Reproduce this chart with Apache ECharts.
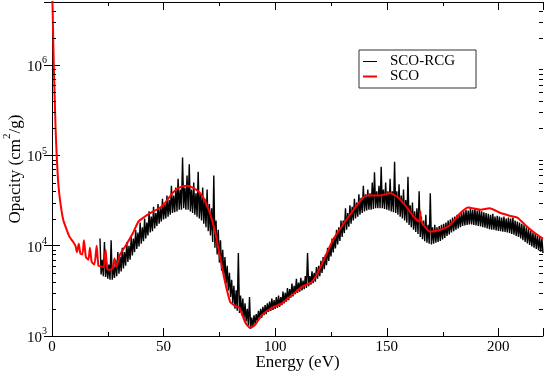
<!DOCTYPE html>
<html>
<head>
<meta charset="utf-8">
<script src="https://cdn.jsdelivr.net/npm/echarts@6/dist/echarts.min.js"></script>
<style>
  html, body { margin: 0; padding: 0; background: #fff; }
  #chart { width: 545px; height: 372px; }
</style>
</head>
<body>
<div id="chart"></div>
<script>
// SCO opacity, [energy eV, opacity cm2/g]
const scoPoints = [
  [0.1, 6.0e6], [0.3, 4.0e6], [0.5, 2.2e6], [0.8, 1.0e6], [1.2, 4.5e5], [1.6, 2.0e5], [2.1, 1.0e5],
  [2.8, 5.0e4], [3.6, 3.2e4], [5.0, 1.95e4], [6.6, 1.5e4], [7.8, 1.26e4], [9.5, 1.1e4], [10.5, 1.0e4],
  [11.2, 8.5e3], [12, 1.05e4], [12.7, 8.2e3], [13.6, 8.0e3], [14.3, 1.15e4], [15.2, 7.5e3], [16.3, 7.0e3],
  [17, 9.5e3], [17.8, 6.6e3], [19, 6.2e3], [20, 1.0e4], [20.8, 6.0e3], [22, 5.9e3], [23.2, 5.8e3],
  [24, 9.0e3], [24.8, 5.5e3], [26, 5.4e3], [27.2, 5.6e3], [28, 7.2e3], [28.8, 5.8e3], [30.5, 8.0e3],
  [33, 1.0e4], [36.4, 1.4e4], [38.7, 1.85e4], [41, 2.05e4], [44, 2.3e4], [47.5, 2.55e4], [50, 2.85e4],
  [54.3, 3.9e4], [57, 4.4e4], [60.4, 4.6e4], [63, 4.4e4], [65.5, 4.0e4], [67.5, 3.5e4], [69.4, 2.8e4],
  [71, 2.2e4], [73, 1.45e4], [74, 1.1e4], [75.3, 7.5e3], [77.5, 4.0e3], [79.8, 2.4e3], [82, 2.15e3], [84, 2.05e3],
  [86.5, 1.43e3], [88.7, 1.23e3], [91, 1.33e3], [94, 1.7e3], [98.6, 2.05e3], [103, 2.3e3], [107.6, 2.85e3],
  [112, 3.5e3], [116.5, 4.0e3], [119, 5.0e3], [122.4, 7.5e3], [126, 1.17e4], [132, 1.95e4], [138, 3.1e4],
  [141, 3.6e4], [147, 3.6e4], [151.5, 3.8e4], [154.6, 3.5e4], [159, 2.65e4], [162, 2.1e4], [164.5, 1.85e4],
  [165, 2.4e4], [165.5, 1.85e4], [169.4, 1.43e4], [174, 1.5e4], [178.4, 1.7e4], [183, 2.3e4], [186.5, 2.65e4],
  [192, 2.5e4], [196, 2.6e4], [201, 2.3e4], [205, 2.15e4], [208.5, 2.05e4], [212, 1.7e4], [215.6, 1.43e4],
  [220, 1.2e4]
];

// SCO-RCG opacity (noisy), [energy eV, opacity cm2/g]
const rcgPoints = [
  [21.5,1.2e4],[22,4.8e3],[22.5,7.0e3],[23,4.6e3],[23.5,1.1e4],[24,4.5e3],[24.5,6.5e3],[25,4.3e3],[25.5,6.2e3],[26,4.2e3],
  [26.5,1.15e4],[27,4.2e3],[27.5,6.0e3],[28,4.4e3],[28.5,7.0e3],[29,4.6e3],[29.5,8.5e3],[30,4.9e3],[30.5,7.5e3],[31,5.2e3],
  [31.5,9.5e3],[32,5.6e3],[32.5,8.5e3],[33,6.0e3],[33.5,1.1e4],[34,6.6e3],[34.5,1.0e4],[35,7.0e3],[35.5,1.25e4],[36,7.8e3],
  [36.5,1.2e4],[37,8.5e3],[37.5,1.5e4],[38,9.2e3],[38.5,1.4e4],[39,9.8e3],[39.5,1.8e4],[40,1.05e4],[40.5,1.6e4],[41,1.12e4],
  [41.5,2.0e4],[42,1.2e4],[42.5,1.8e4],[43,1.3e4],[43.5,2.4e4],[44,1.4e4],[44.5,2.1e4],[45,1.45e4],[45.5,2.7e4],[46,1.55e4],
  [46.5,2.3e4],[47,1.65e4],[47.5,2.9e4],[48,1.75e4],[48.5,2.6e4],[49,1.85e4],[49.5,3.3e4],[50,1.95e4],[50.5,2.9e4],[51,2.0e4],
  [51.5,3.6e4],[52,2.1e4],[52.5,3.2e4],[53,2.2e4],[53.5,4.6e4],[54,2.3e4],[54.5,3.6e4],[55,2.35e4],[55.5,4.4e4],[56,2.4e4],
  [56.5,5.5e4],[57,2.5e4],[57.5,4.2e4],[58,2.5e4],[58.5,9.5e4],[59,2.6e4],[59.5,4.4e4],[60,2.5e4],[60.5,6.0e4],[61,2.5e4],
  [61.5,8.0e4],[62,2.4e4],[62.5,4.2e4],[63,2.3e4],[63.5,5.0e4],[64,2.2e4],[64.5,3.8e4],[65,2.1e4],[65.5,6.6e4],[66,2.0e4],
  [66.5,3.8e4],[67,1.9e4],[67.5,4.4e4],[68,1.75e4],[68.5,3.3e4],[69,1.6e4],[69.5,4.2e4],[70,1.45e4],[70.5,2.9e4],[71,1.3e4],
  [71.5,2.6e4],[72,1.1e4],[72.5,6.0e4],[73,9.5e3],[73.5,1.9e4],[74,8.0e3],[74.5,1.5e4],[75,6.5e3],[75.5,1.15e4],[76,5.3e3],
  [76.5,9.0e3],[77,4.5e3],[77.5,7.5e3],[78,3.8e3],[78.5,6.0e3],[79,3.2e3],[79.5,5.0e3],[80,2.7e3],[80.5,4.2e3],[81,2.3e3],
  [81.5,3.6e3],[82,2.0e3],[82.5,3.2e3],[83,1.9e3],[83.5,8.3e3],[84,1.8e3],[84.5,2.8e3],[85,1.7e3],[85.5,2.6e3],[86,1.55e3],
  [86.5,2.3e3],[87,1.45e3],[87.5,2.0e3],[88,1.3e3],[88.5,2.7e3],[89,1.2e3],[89.5,1.6e3],[90,1.25e3],[90.5,1.7e3],[91,1.35e3],
  [91.5,1.75e3],[92,1.45e3],[92.5,1.9e3],[93,1.55e3],[93.5,2.0e3],[94,1.6e3],[94.5,2.1e3],[95,1.7e3],[95.5,2.2e3],[96,1.75e3],
  [96.5,2.3e3],[97,1.85e3],[97.5,2.4e3],[98,1.9e3],[98.5,2.6e3],[99,1.95e3],[99.5,2.5e3],[100,2.0e3],[100.5,2.7e3],[101,2.05e3],
  [101.5,2.8e3],[102,2.1e3],[102.5,2.7e3],[103,2.2e3],[103.5,3.1e3],[104,2.3e3],[104.5,3.0e3],[105,2.4e3],[105.5,3.4e3],[106,2.5e3],
  [106.5,3.3e3],[107,2.65e3],[107.5,3.8e3],[108,2.75e3],[108.5,3.6e3],[109,2.9e3],[109.5,4.3e3],[110,3.0e3],[110.5,3.9e3],[111,3.1e3],
  [111.5,4.4e3],[112,3.2e3],[112.5,4.1e3],[113,3.3e3],[113.5,4.6e3],[114,3.4e3],[114.5,8.3e3],[115,3.55e3],[115.5,4.6e3],[116,3.7e3],
  [116.5,5.2e3],[117,3.85e3],[117.5,5.0e3],[118,4.0e3],[118.5,5.8e3],[119,4.3e3],[119.5,6.0e3],[120,4.6e3],[120.5,6.8e3],[121,5.0e3],
  [121.5,7.5e3],[122,5.5e3],[122.5,8.0e3],[123,6.1e3],[123.5,9.5e3],[124,6.8e3],[124.5,1.0e4],[125,7.6e3],[125.5,1.2e4],[126,8.4e3],
  [126.5,1.25e4],[127,9.3e3],[127.5,1.5e4],[128,1.03e4],[128.5,1.6e4],[129,1.13e4],[129.5,1.9e4],[130,1.25e4],[130.5,1.9e4],[131,1.38e4],
  [131.5,2.6e4],[132,1.5e4],[132.5,2.3e4],[133,1.62e4],[133.5,2.8e4],[134,1.75e4],[134.5,2.7e4],[135,1.9e4],[135.5,3.3e4],[136,2.0e4],
  [136.5,3.0e4],[137,2.1e4],[137.5,3.7e4],[138,2.2e4],[138.5,3.4e4],[139,2.3e4],[139.5,4.6e4],[140,2.4e4],[140.5,3.7e4],[141,2.45e4],
  [141.5,4.2e4],[142,2.5e4],[142.5,3.8e4],[143,2.5e4],[143.5,5.0e4],[144,2.55e4],[144.5,6.5e4],[145,2.6e4],[145.5,4.0e4],[146,2.6e4],
  [146.5,4.6e4],[147,2.6e4],[147.5,7.5e4],[148,2.6e4],[148.5,4.2e4],[149,2.55e4],[149.5,5.0e4],[150,2.5e4],[150.5,4.0e4],[151,2.45e4],
  [151.5,5.5e4],[152,2.4e4],[152.5,4.0e4],[153,2.35e4],[153.5,8.5e4],[154,2.3e4],[154.5,4.0e4],[155,2.2e4],[155.5,4.8e4],[156,2.1e4],
  [156.5,3.6e4],[157,2.0e4],[157.5,4.2e4],[158,1.9e4],[158.5,3.2e4],[159,1.8e4],[159.5,5.8e4],[160,1.7e4],[160.5,2.8e4],[161,1.6e4],
  [161.5,3.0e4],[162,1.5e4],[162.5,2.4e4],[163,1.42e4],[163.5,2.6e4],[164,1.35e4],[164.5,4.0e4],[165,1.25e4],[165.5,2.1e4],[166,1.18e4],
  [166.5,1.9e4],[167,1.12e4],[167.5,2.2e4],[168,1.08e4],[168.5,1.7e4],[169,1.05e4],[169.5,3.8e4],[170,1.03e4],[170.5,1.6e4],[171,1.05e4],
  [171.5,1.7e4],[172,1.08e4],[172.5,1.6e4],[173,1.1e4],[173.5,1.65e4],[174,1.13e4],[174.5,1.7e4],[175,1.17e4],[175.5,1.75e4],[176,1.22e4],
  [176.5,1.8e4],[177,1.28e4],[177.5,1.9e4],[178,1.33e4],[178.5,1.95e4],[179,1.4e4],[179.5,2.05e4],[180,1.45e4],[180.5,2.1e4],[181,1.5e4],
  [181.5,2.2e4],[182,1.55e4],[182.5,2.25e4],[183,1.6e4],[183.5,2.35e4],[184,1.65e4],[184.5,2.4e4],[185,1.68e4],[185.5,2.5e4],[186,1.7e4],
  [186.5,2.45e4],[187,1.72e4],[187.5,2.6e4],[188,1.72e4],[188.5,2.5e4],[189,1.7e4],[189.5,2.6e4],[190,1.68e4],[190.5,2.45e4],[191,1.65e4],
  [191.5,2.5e4],[192,1.63e4],[192.5,2.4e4],[193,1.6e4],[193.5,2.35e4],[194,1.58e4],[194.5,2.3e4],[195,1.55e4],[195.5,2.25e4],[196,1.52e4],
  [196.5,2.2e4],[197,1.5e4],[197.5,2.25e4],[198,1.5e4],[198.5,2.1e4],[199,1.48e4],[199.5,2.15e4],[200,1.46e4],[200.5,2.1e4],[201,1.45e4],
  [201.5,2.05e4],[202,1.43e4],[202.5,2.1e4],[203,1.42e4],[203.5,2.0e4],[204,1.4e4],[204.5,2.05e4],[205,1.38e4],[205.5,2.0e4],[206,1.35e4],
  [206.5,2.05e4],[207,1.32e4],[207.5,1.9e4],[208,1.28e4],[208.5,1.85e4],[209,1.25e4],[209.5,1.8e4],[210,1.2e4],[210.5,1.75e4],[211,1.15e4],
  [211.5,1.7e4],[212,1.1e4],[212.5,1.6e4],[213,1.06e4],[213.5,1.55e4],[214,1.02e4],[214.5,1.45e4],[215,9.8e3],[215.5,1.4e4],[216,9.5e3],
  [216.5,1.35e4],[217,9.2e3],[217.5,1.3e4],[218,8.9e3],[218.5,1.25e4],[219,8.6e3],[219.5,1.2e4],[220,8.3e3]
];

const xMinorTicks = [25, 75, 125, 175];
const yMinorTicks = [
  2e3, 3e3, 4e3, 5e3, 6e3, 7e3, 8e3, 9e3,
  2e4, 3e4, 4e4, 5e4, 6e4, 7e4, 8e4, 9e4,
  2e5, 3e5, 4e5, 5e5, 6e5, 7e5, 8e5, 9e5,
  2e6, 3e6, 4e6
];

const serif = '"Liberation Serif", "DejaVu Serif", serif';
const chart = echarts.init(document.getElementById('chart'));

// minor ticks drawn inward on both sides of the frame
function minorTicks(values, isX) {
  return {
    type: 'custom',
    name: isX ? 'xminor' : 'yminor',
    silent: true,
    clip: false,
    z: 5,
    data: values.map(v => (isX ? [v, 1000] : [0, v])),
    renderItem(params, api) {
      const cs = params.coordSys;
      const p = api.coord([api.value(0), api.value(1)]);
      const style = { stroke: '#000', lineWidth: 1 };
      if (isX) {
        const x = Math.round(p[0]) + 0.5;
        return { type: 'group', children: [
          { type: 'line', shape: { x1: x, y1: cs.y + cs.height, x2: x, y2: cs.y + cs.height - 4 }, style },
          { type: 'line', shape: { x1: x, y1: cs.y, x2: x, y2: cs.y + 4 }, style }
        ] };
      }
      const y = Math.round(p[1]) + 0.5;
      return { type: 'group', children: [
        { type: 'line', shape: { x1: cs.x, y1: y, x2: cs.x + 4, y2: y }, style },
        { type: 'line', shape: { x1: cs.x + cs.width, y1: y, x2: cs.x + cs.width - 4, y2: y }, style }
      ] };
    }
  };
}

const axisLine = { show: true, lineStyle: { color: '#000', width: 1 } };
const majorTick = { show: true, inside: true, length: 8, lineStyle: { color: '#000' } };

const option = {
  animation: false,
  backgroundColor: '#fff',
  grid: { left: 52, right: 2, top: 2, bottom: 36, outerBoundsMode: 'none' },
  legend: {
    data: [
      { name: 'SCO-RCG', icon: 'path://M0,0H14V1H0Z' },
      { name: 'SCO', icon: 'path://M0,0H14V2H0Z' }
    ],
    orient: 'vertical',
    left: 359,
    top: 50,
    padding: [4, 21, 4, 4],
    itemGap: 0,
    itemWidth: 14,
    itemHeight: 13,
    borderColor: '#333',
    borderWidth: 1,
    textStyle: { fontFamily: serif, fontSize: 15, color: '#000', lineHeight: 13, padding: [0, 0, 0, 8] }
  },
  xAxis: [{
    type: 'value', min: 0, max: 220, interval: 50,
    axisLine, axisTick: majorTick, splitLine: { show: false },
    axisLabel: {
      fontFamily: serif, fontSize: 15, color: '#000', margin: 4,
      formatter: v => (v % 50 === 0 ? String(v) : '')
    },
    name: 'Energy (eV)', nameLocation: 'middle', nameGap: 18, nameMoveOverlap: false,
    nameTextStyle: { fontFamily: serif, fontSize: 17, color: '#000' }
  }, {
    type: 'value', min: 0, max: 220, interval: 50, position: 'top',
    axisLine, axisTick: majorTick, splitLine: { show: false }, axisLabel: { show: false }
  }],
  yAxis: [{
    type: 'log', logBase: 10, min: 1000, max: 5e6,
    axisLine, axisTick: majorTick, splitLine: { show: false },
    axisLabel: {
      fontFamily: serif, fontSize: 15, color: '#000', margin: 5,
      formatter: v => {
        const e = Math.round(Math.log10(v));
        if (Math.abs(Math.log10(v) - e) > 1e-6) return '';
        return '{b|10}{sup|' + e + '}';
      },
      rich: {
        b: { fontFamily: serif, fontSize: 15, color: '#000', padding: [4, 0, 0, 0], verticalAlign: 'bottom' },
        sup: { fontFamily: serif, fontSize: 10, color: '#000', verticalAlign: 'top' }
      }
    },
    name: '{b|Opacity (cm}{sup|2}{b|/g)}', nameLocation: 'middle', nameGap: 28, nameMoveOverlap: false,
    nameTextStyle: {
      rich: {
        b: { fontFamily: serif, fontSize: 17, color: '#000', padding: [5, 0, 0, 0], verticalAlign: 'bottom' },
        sup: { fontFamily: serif, fontSize: 11, color: '#000', verticalAlign: 'top' }
      }
    }
  }, {
    type: 'log', logBase: 10, min: 1000, max: 5e6, position: 'right',
    axisLine, axisTick: majorTick, splitLine: { show: false }, axisLabel: { show: false }
  }],
  series: [
    {
      name: 'SCO-RCG', type: 'line', data: rcgPoints, symbol: 'none',
      lineStyle: { color: '#000', width: 1.4 }, itemStyle: { color: '#000' }, z: 2
    },
    {
      name: 'SCO', type: 'line', data: scoPoints, symbol: 'none', smooth: 0.2,
      lineStyle: { color: '#f00', width: 2 }, itemStyle: { color: '#f00' }, z: 3
    },
    minorTicks(xMinorTicks, true),
    minorTicks(yMinorTicks, false)
  ]
};

chart.setOption(option);
</script>
</body>
</html>
